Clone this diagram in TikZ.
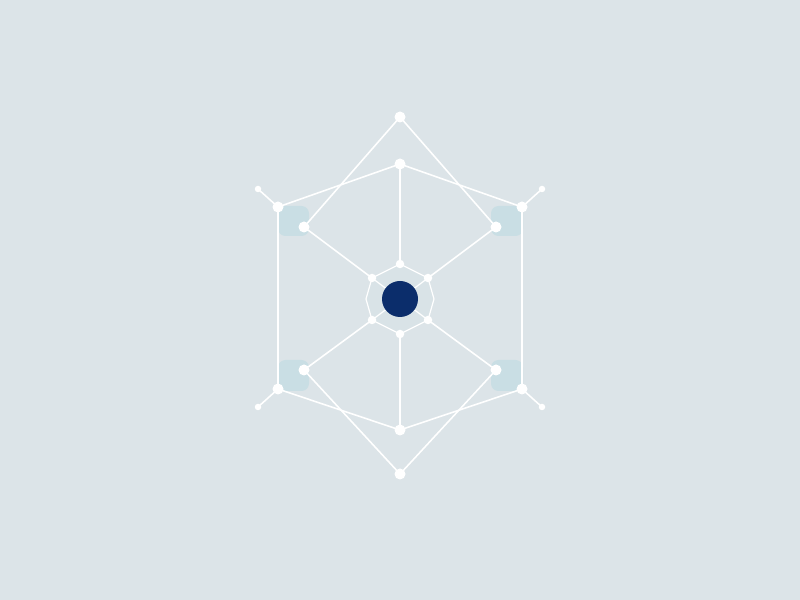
\documentclass[tikz,border=0pt]{standalone}
\usepackage{tikz}
\definecolor{bgcol}{HTML}{DCE4E8}
\definecolor{patchcol}{HTML}{C9DEE4}
\definecolor{corecol}{HTML}{0B2D6B}
\definecolor{ringcol}{HTML}{D9E3E7}
\begin{document}
\begin{tikzpicture}[x=0.2mm, y=-0.2mm,
	dot/.style={circle, fill=white, inner sep=0pt, minimum size=2.2mm},
	tipdot/.style={circle, fill=white, inner sep=0pt, minimum size=1.3mm},
	ringdot/.style={circle, fill=white, inner sep=0pt, minimum size=1.7mm},
	link/.style={white, line width=0.9pt},
	ringlink/.style={white, line width=0.7pt}]
	\fill[bgcol] (0,0) rectangle (800,600);
	% corner patches
	\fill[patchcol, rounded corners=1.5mm] (278,206) rectangle (309,236);
	\fill[patchcol, rounded corners=1.5mm] (491,206) rectangle (523,236);
	\fill[patchcol, rounded corners=1.5mm] (278,360) rectangle (309,391);
	\fill[patchcol, rounded corners=1.5mm] (491,360) rectangle (523,391);
	% positions
	\coordinate (ta) at (400,117);
	\coordinate (ti) at (400,164);
	\coordinate (lc1) at (278,207);
	\coordinate (rc1) at (522,207);
	\coordinate (lt1) at (258,189);
	\coordinate (rt1) at (542,189);
	\coordinate (li1) at (304,227);
	\coordinate (ri1) at (496,227);
	\coordinate (lc2) at (278,389);
	\coordinate (rc2) at (522,389);
	\coordinate (lt2) at (258,407);
	\coordinate (rt2) at (542,407);
	\coordinate (li2) at (304,370);
	\coordinate (ri2) at (496,370);
	\coordinate (bi) at (400,430);
	\coordinate (ba) at (400,474);
	\coordinate (r1) at (400,264);
	\coordinate (r2) at (428,278);
	\coordinate (r3) at (434,299);
	\coordinate (r4) at (428,320);
	\coordinate (r5) at (400,334);
	\coordinate (r6) at (372,320);
	\coordinate (r7) at (366,299);
	\coordinate (r8) at (372,278);
	\coordinate (c) at (400,299);
	% ring
	\fill[ringcol] (r1)--(r2)--(r3)--(r4)--(r5)--(r6)--(r7)--(r8)--cycle;
	\draw[ringlink] (r1)--(r2)--(r3)--(r4)--(r5)--(r6)--(r7)--(r8)--cycle;
	\draw[ringlink] (r2)--(c);
	\draw[ringlink] (r4)--(c);
	\draw[ringlink] (r6)--(c);
	\draw[ringlink] (r8)--(c);
	% frame
	\draw[link] (li1)--(ta)--(ri1);
	\draw[link] (lc1)--(ti)--(rc1);
	\draw[link] (ti)--(r1);
	\draw[link] (lt1)--(lc1)--(lc2)--(lt2);
	\draw[link] (rt1)--(rc1)--(rc2)--(rt2);
	\draw[link] (li1)--(r8);
	\draw[link] (ri1)--(r2);
	\draw[link] (li2)--(r6);
	\draw[link] (ri2)--(r4);
	\draw[link] (li2)--(ba)--(ri2);
	\draw[link] (lc2)--(bi)--(rc2);
	\draw[link] (bi)--(r5);
	% dots
	\node[dot] (nta) at (ta) {};
	\node[dot] (nti) at (ti) {};
	\node[dot] (nlc1) at (lc1) {};
	\node[dot] (nrc1) at (rc1) {};
	\node[tipdot] (nlt1) at (lt1) {};
	\node[tipdot] (nrt1) at (rt1) {};
	\node[dot] (nli1) at (li1) {};
	\node[dot] (nri1) at (ri1) {};
	\node[dot] (nlc2) at (lc2) {};
	\node[dot] (nrc2) at (rc2) {};
	\node[tipdot] (nlt2) at (lt2) {};
	\node[tipdot] (nrt2) at (rt2) {};
	\node[dot] (nli2) at (li2) {};
	\node[dot] (nri2) at (ri2) {};
	\node[dot] (nbi) at (bi) {};
	\node[dot] (nba) at (ba) {};
	\node[ringdot] (nr1) at (r1) {};
	\node[ringdot] (nr2) at (r2) {};
	\node[ringdot] (nr4) at (r4) {};
	\node[ringdot] (nr5) at (r5) {};
	\node[ringdot] (nr6) at (r6) {};
	\node[ringdot] (nr8) at (r8) {};
	\node[circle, fill=corecol, inner sep=0pt, minimum size=7.2mm] (core) at (c) {};
\end{tikzpicture}
\end{document}
